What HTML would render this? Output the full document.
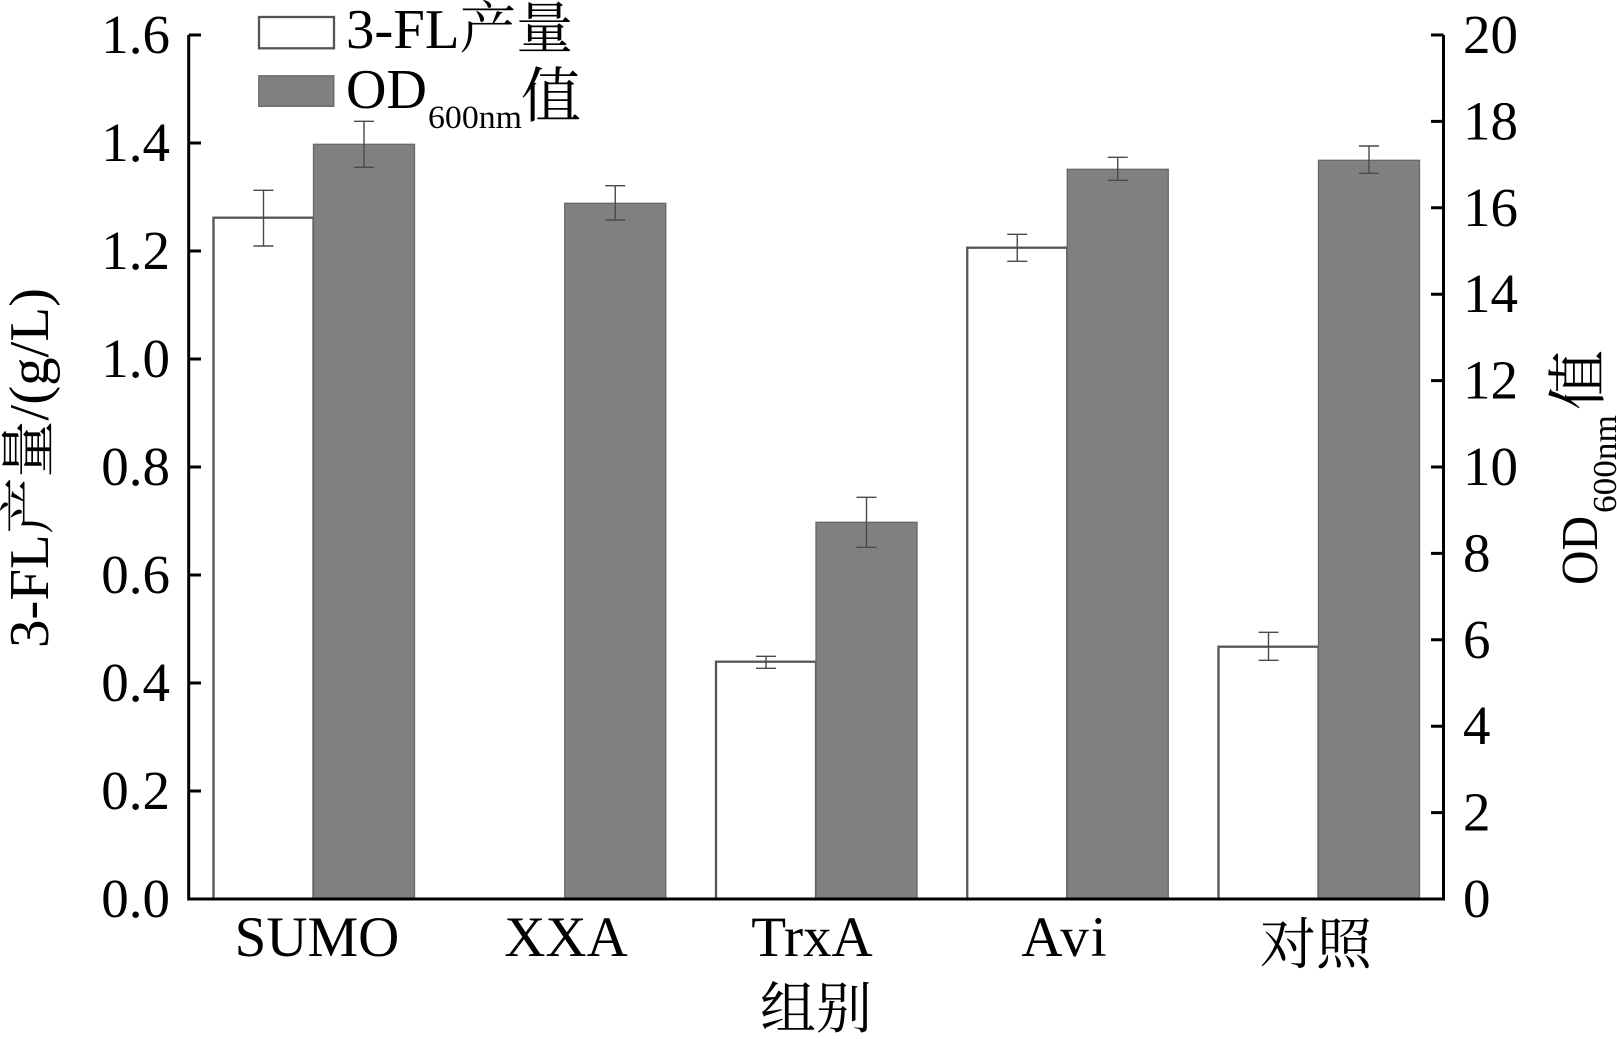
<!DOCTYPE html>
<html>
<head>
<meta charset="utf-8">
<style>
  html,body{margin:0;padding:0;background:#fff;}
  svg{display:block;}
  text{font-family:"Liberation Serif","Noto Serif CJK SC",serif;fill:#000;}
</style>
</head>
<body>
<svg width="1617" height="1039" viewBox="0 0 1617 1039" xmlns="http://www.w3.org/2000/svg">
  <rect x="0" y="0" width="1617" height="1039" fill="#fff"/>

  <!-- bars: white (3-FL) -->
  <g fill="#fff" stroke="#555" stroke-width="2.3">
    <rect x="213.5" y="217.7" width="100" height="681.3"/>
    <rect x="716" y="661.7" width="100" height="237.3"/>
    <rect x="967.25" y="247.7" width="100" height="651.3"/>
    <rect x="1218.5" y="646.7" width="100" height="252.3"/>
  </g>
  <!-- bars: gray (OD) -->
  <g fill="#808080" stroke="#666" stroke-width="1.3">
    <rect x="313.5" y="144.3" width="101" height="754.7"/>
    <rect x="564.75" y="203.3" width="101" height="695.7"/>
    <rect x="816" y="522.3" width="101" height="376.7"/>
    <rect x="1067.25" y="169.3" width="101" height="729.7"/>
    <rect x="1318.5" y="160.3" width="101" height="738.7"/>
  </g>

  <!-- error bars -->
  <g stroke="#4a4a4a" stroke-width="1.4" fill="none">
    <path d="M263.5 190.3V246M253.5 190.3H273.5M253.5 246H273.5"/>
    <path d="M364 121.3V167.3M354 121.3H374M354 167.3H374"/>
    <path d="M615.25 185.7V220M605.25 185.7H625.25M605.25 220H625.25"/>
    <path d="M766 656.3V668.3M756 656.3H776M756 668.3H776"/>
    <path d="M866.5 497.3V547.3M856.5 497.3H876.5M856.5 547.3H876.5"/>
    <path d="M1017.25 234.3V261.3M1007.25 234.3H1027.25M1007.25 261.3H1027.25"/>
    <path d="M1117.75 157.3V180.3M1107.75 157.3H1127.75M1107.75 180.3H1127.75"/>
    <path d="M1268.5 632.3V660.3M1258.5 632.3H1278.5M1258.5 660.3H1278.5"/>
    <path d="M1369 146V173.3M1359 146H1379M1359 173.3H1379"/>
  </g>

  <!-- axes -->
  <g stroke="#000" stroke-width="3" fill="none">
    <path d="M188.7 35V899M187.2 899H1445M1443.5 35V900.5"/>
    <path d="M188.7 35H201M188.7 143H201M188.7 251H201M188.7 359H201M188.7 467H201M188.7 575H201M188.7 683H201M188.7 791H201"/>
    <path d="M1431 35H1443.5M1431 121.4H1443.5M1431 207.8H1443.5M1431 294.2H1443.5M1431 380.6H1443.5M1431 467H1443.5M1431 553.4H1443.5M1431 639.8H1443.5M1431 726.2H1443.5M1431 812.6H1443.5"/>
  </g>

  <!-- left tick labels -->
  <g font-size="55" text-anchor="end">
    <text x="170" y="53">1.6</text>
    <text x="170" y="161">1.4</text>
    <text x="170" y="269">1.2</text>
    <text x="170" y="377">1.0</text>
    <text x="170" y="485">0.8</text>
    <text x="170" y="593">0.6</text>
    <text x="170" y="701">0.4</text>
    <text x="170" y="809">0.2</text>
    <text x="170" y="917">0.0</text>
  </g>

  <!-- right tick labels -->
  <g font-size="55" text-anchor="start">
    <text x="1463" y="53">20</text>
    <text x="1463" y="139.4">18</text>
    <text x="1463" y="225.8">16</text>
    <text x="1463" y="312.2">14</text>
    <text x="1463" y="398.6">12</text>
    <text x="1463" y="485">10</text>
    <text x="1463" y="571.4">8</text>
    <text x="1463" y="657.8">6</text>
    <text x="1463" y="744.2">4</text>
    <text x="1463" y="830.6">2</text>
    <text x="1463" y="917">0</text>
  </g>

  <!-- x category labels -->
  <g font-size="57" text-anchor="middle">
    <text x="317" y="956">SUMO</text>
    <text x="566" y="956">XXA</text>
    <text x="812" y="956">TrxA</text>
    <text x="1065" y="956" letter-spacing="2">Avi</text>
    <text x="1316" y="964" font-size="56">对照</text>
  </g>

  <!-- x axis title -->
  <text x="816" y="1028" font-size="56" text-anchor="middle">组别</text>

  <!-- left axis title -->
  <text transform="translate(48,648) rotate(-90)" x="0" y="0" font-size="56" textLength="360" lengthAdjust="spacingAndGlyphs">3-FL产量/(g/L)</text>

  <!-- right axis title -->
  <g transform="translate(1597,585) rotate(-90)">
    <text x="0" y="0" font-size="52" textLength="69" lengthAdjust="spacingAndGlyphs">OD</text>
    <text x="72" y="19" font-size="34" textLength="98" lengthAdjust="spacingAndGlyphs">600nm</text>
    <text x="175" y="2" font-size="60">值</text>
  </g>

  <!-- legend -->
  <rect x="259" y="17" width="75" height="31.3" fill="#fff" stroke="#555" stroke-width="2.3"/>
  <rect x="258.8" y="75.8" width="75" height="30.5" fill="#808080" stroke="#666" stroke-width="1.3"/>
  <text x="346" y="48" font-size="56" textLength="227" lengthAdjust="spacingAndGlyphs">3-FL产量</text>
  <text x="346" y="108" font-size="56">OD</text>
  <text x="428" y="128" font-size="33" textLength="94" lengthAdjust="spacingAndGlyphs">600nm</text>
  <text x="521" y="117" font-size="60">值</text>
</svg>
</body>
</html>
